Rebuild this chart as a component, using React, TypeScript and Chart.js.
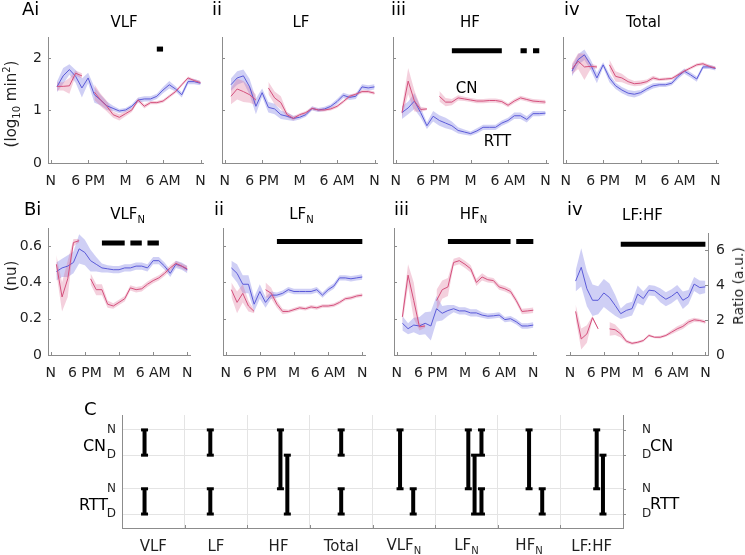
import React, { useEffect, useRef } from 'react';
import { Chart, registerables } from 'chart.js';

Chart.register(...registerables);

const FONT = "'DejaVu Sans', sans-serif";
const TXT = '#1f1f1f';
const AXIS = '#8c8c8c';
const BLUE = '#5a5ad8';
const RED = '#d4507c';
const BLUE_BAND = 'rgba(118,118,226,0.35)';
const RED_BAND = 'rgba(222,110,148,0.32)';
const C_GRID = '#e4e4e4';

// ---------- shared axes ----------
const HOURS = [1, 2, 3, 4, 5, 6, 7, 8, 9, 10, 11, 12, 13, 14, 15, 16, 17, 18, 19, 20, 21, 22, 23, 24];
const X_TICK_VALUES = [0, 6, 12, 18, 24];
const X_TICK_LABELS = ['N', '6 PM', 'M', '6 AM', 'N'];
const Y_TICKS_LOG = [0, 1, 2];
const Y_LABELS_LOG = ['0', '1', '2'];
const Y_TICKS_NU = [0, 0.2, 0.4, 0.6];
const Y_LABELS_NU = ['0', '0.2', '0.4', '0.6'];
const Y_TICKS_RATIO = [0, 2, 4, 6];
const Y_LABELS_RATIO = ['0', '2', '4', '6'];

// ---------- A: VLF ----------
const vlfRtt = [1.45, 1.66, 1.78, 1.65, 1.43, 1.62, 1.30, 1.20, 1.09, 1.04, 0.99, 1.01, 1.08, 1.20, 1.22, 1.22, 1.27, 1.39, 1.49, 1.41, 1.30, 1.55, 1.55, 1.52];
const vlfRttErr = [0.10, 0.15, 0.10, 0.12, 0.18, 0.10, 0.15, 0.10, 0.08, 0.05, 0.04, 0.04, 0.04, 0.05, 0.05, 0.05, 0.05, 0.06, 0.07, 0.05, 0.05, 0.05, 0.05, 0.04];
const vlfCn = [1.46, 1.46, 1.47, 1.71, 1.66, null, 1.35, 1.20, 1.08, 0.92, 0.87, 0.94, 1.01, 1.20, 1.08, 1.15, 1.15, 1.18, 1.27, 1.36, 1.49, 1.62, 1.57, 1.53];
const vlfCnErr = [0.08, 0.08, 0.15, 0.05, 0.05, null, 0.15, 0.12, 0.10, 0.06, 0.06, 0.05, 0.04, 0.04, 0.04, 0.03, 0.03, 0.03, 0.03, 0.03, 0.03, 0.03, 0.03, 0.03];
const vlfSig = [[17, 18]];

// ---------- A: LF ----------
const lfRtt = [1.49, 1.62, 1.66, 1.45, 1.08, 1.34, 1.06, 1.03, 0.92, 0.89, 0.85, 0.87, 0.92, 1.04, 1.01, 1.03, 1.08, 1.17, 1.29, 1.25, 1.27, 1.45, 1.43, 1.45];
const lfRttErr = [0.12, 0.13, 0.12, 0.15, 0.15, 0.08, 0.10, 0.10, 0.08, 0.07, 0.05, 0.04, 0.04, 0.04, 0.04, 0.04, 0.04, 0.05, 0.05, 0.05, 0.05, 0.05, 0.05, 0.05];
const lfCn = [1.27, 1.41, 1.36, 1.30, 1.20, null, 1.43, 1.24, 1.15, 0.92, 0.85, 0.92, 0.96, 1.04, 1.01, 1.01, 1.03, 1.08, 1.17, 1.27, 1.31, 1.36, 1.36, 1.33];
const lfCnErr = [0.15, 0.20, 0.20, 0.15, 0.10, null, 0.12, 0.12, 0.12, 0.05, 0.04, 0.03, 0.03, 0.03, 0.03, 0.03, 0.03, 0.03, 0.03, 0.03, 0.03, 0.03, 0.03, 0.03];
const lfSig: number[][] = [];

// ---------- A: HF ----------
const hfRtt = [0.96, 1.05, 1.18, 0.96, 0.71, 0.89, 0.81, 0.76, 0.71, 0.62, 0.59, 0.56, 0.61, 0.68, 0.68, 0.68, 0.76, 0.81, 0.90, 0.90, 0.83, 0.94, 0.94, 0.95];
const hfRttErr = [0.12, 0.12, 0.15, 0.10, 0.06, 0.10, 0.10, 0.10, 0.08, 0.06, 0.05, 0.04, 0.05, 0.05, 0.05, 0.05, 0.05, 0.05, 0.06, 0.06, 0.06, 0.05, 0.05, 0.04];
const hfCn = [0.96, 1.56, 1.18, 1.02, 1.03, null, 1.27, 1.16, 1.16, 1.24, 1.22, 1.20, 1.18, 1.18, 1.19, 1.19, 1.17, 1.10, 1.18, 1.24, 1.21, 1.18, 1.17, 1.16];
const hfCnErr = [0.10, 0.25, 0.20, 0.05, 0.02, null, 0.10, 0.08, 0.06, 0.05, 0.04, 0.04, 0.04, 0.04, 0.04, 0.04, 0.04, 0.04, 0.04, 0.04, 0.04, 0.04, 0.04, 0.04];
const hfSig = [[9, 17], [20, 21], [22, 23]];

// ---------- A: Total ----------
const totRtt = [1.75, 1.97, 2.06, 1.87, 1.62, 1.87, 1.62, 1.47, 1.39, 1.33, 1.31, 1.34, 1.41, 1.47, 1.49, 1.49, 1.52, 1.65, 1.75, 1.68, 1.60, 1.83, 1.83, 1.80];
const totRttErr = [0.10, 0.10, 0.10, 0.10, 0.10, 0.05, 0.08, 0.06, 0.06, 0.06, 0.06, 0.05, 0.05, 0.05, 0.04, 0.04, 0.04, 0.05, 0.05, 0.05, 0.05, 0.04, 0.04, 0.04];
const totCn = [1.79, 1.94, 1.83, 1.84, 1.83, null, 1.87, 1.65, 1.62, 1.55, 1.51, 1.52, 1.55, 1.62, 1.59, 1.60, 1.61, 1.68, 1.75, 1.81, 1.87, 1.89, 1.84, 1.81];
const totCnErr = [0.10, 0.15, 0.25, 0.05, 0.03, null, 0.10, 0.10, 0.08, 0.06, 0.05, 0.05, 0.04, 0.04, 0.03, 0.03, 0.03, 0.03, 0.03, 0.03, 0.03, 0.03, 0.03, 0.03];
const totSig: number[][] = [];

// ---------- B: VLF_N ----------
const vlfNRtt = [0.46, 0.48, 0.49, 0.51, 0.585, 0.565, 0.52, 0.50, 0.48, 0.475, 0.47, 0.47, 0.48, 0.48, 0.49, 0.49, 0.48, 0.52, 0.52, 0.49, 0.45, 0.50, 0.49, 0.47];
const vlfNRttErr = [0.05, 0.05, 0.06, 0.06, 0.08, 0.07, 0.06, 0.04, 0.025, 0.02, 0.02, 0.02, 0.02, 0.02, 0.02, 0.02, 0.02, 0.02, 0.02, 0.02, 0.02, 0.02, 0.02, 0.02];
const vlfNCn = [0.50, 0.32, 0.42, 0.62, 0.63, null, 0.42, 0.36, 0.36, 0.28, 0.27, 0.29, 0.31, 0.37, 0.36, 0.365, 0.39, 0.41, 0.425, 0.45, 0.48, 0.505, 0.49, 0.475];
const vlfNCnErr = [0.05, 0.08, 0.10, 0.02, 0.01, null, 0.03, 0.03, 0.03, 0.02, 0.015, 0.015, 0.015, 0.015, 0.015, 0.015, 0.015, 0.015, 0.015, 0.015, 0.015, 0.015, 0.015, 0.015];
const vlfNSig = [[9, 13], [14, 16], [17, 19]];

// ---------- B: LF_N ----------
const lfNRtt = [0.48, 0.45, 0.39, 0.39, 0.28, 0.35, 0.29, 0.33, 0.33, 0.34, 0.36, 0.35, 0.35, 0.35, 0.35, 0.36, 0.33, 0.36, 0.38, 0.425, 0.425, 0.42, 0.425, 0.43];
const lfNRttErr = [0.04, 0.05, 0.05, 0.05, 0.04, 0.04, 0.03, 0.02, 0.015, 0.015, 0.015, 0.015, 0.015, 0.015, 0.015, 0.015, 0.015, 0.015, 0.015, 0.015, 0.015, 0.015, 0.015, 0.015];
const lfNCn = [0.36, 0.29, 0.34, 0.27, 0.24, null, 0.36, 0.34, 0.28, 0.24, 0.24, 0.25, 0.26, 0.255, 0.265, 0.26, 0.27, 0.27, 0.275, 0.29, 0.31, 0.315, 0.325, 0.33];
const lfNCnErr = [0.04, 0.06, 0.05, 0.03, 0.01, null, 0.04, 0.03, 0.02, 0.015, 0.01, 0.01, 0.01, 0.01, 0.01, 0.01, 0.01, 0.01, 0.01, 0.01, 0.01, 0.01, 0.01, 0.01];
const lfNSig = [[9, 24]];

// ---------- B: HF_N ----------
const hfNRtt = [0.175, 0.145, 0.165, 0.16, 0.175, 0.16, 0.255, 0.23, 0.245, 0.255, 0.243, 0.243, 0.232, 0.232, 0.22, 0.214, 0.216, 0.22, 0.195, 0.20, 0.183, 0.16, 0.16, 0.165];
const hfNRttErr = [0.04, 0.03, 0.04, 0.05, 0.06, 0.08, 0.07, 0.04, 0.03, 0.02, 0.02, 0.02, 0.02, 0.02, 0.015, 0.015, 0.015, 0.015, 0.015, 0.015, 0.015, 0.015, 0.015, 0.015];
const hfNCn = [0.21, 0.44, 0.30, 0.155, 0.16, null, 0.30, 0.36, 0.375, 0.51, 0.52, 0.50, 0.475, 0.40, 0.43, 0.415, 0.41, 0.375, 0.365, 0.35, 0.30, 0.24, 0.243, 0.247];
const hfNCnErr = [0.04, 0.06, 0.10, 0.02, 0.01, null, 0.06, 0.05, 0.05, 0.02, 0.02, 0.02, 0.02, 0.02, 0.02, 0.015, 0.015, 0.015, 0.015, 0.015, 0.015, 0.015, 0.015, 0.015];
const hfNSig = [[9, 20], [21, 24]];

// ---------- B: LF:HF ----------
const lfhfRtt = [4.24, 5.03, 3.80, 3.14, 3.14, 3.56, 3.30, 2.85, 2.37, 2.56, 2.66, 3.49, 3.24, 3.72, 3.68, 3.43, 3.20, 3.37, 3.62, 3.14, 3.33, 4.07, 3.87, 3.91];
const lfhfRttErr = [0.6, 1.1, 1.0, 0.9, 0.8, 0.8, 0.8, 0.6, 0.3, 0.4, 0.4, 0.5, 0.4, 0.3, 0.3, 0.4, 0.4, 0.4, 0.4, 0.5, 0.4, 0.4, 0.4, 0.35];
const lfhfCn = [2.50, 0.92, 1.21, 2.14, 1.50, null, 1.50, 1.45, 1.21, 0.79, 0.67, 0.73, 0.83, 1.12, 1.02, 1.02, 1.12, 1.31, 1.50, 1.64, 1.89, 2.02, 1.98, 1.89];
const lfhfCnErr = [0.4, 0.6, 0.5, 0.1, 0.05, null, 0.4, 0.3, 0.2, 0.1, 0.08, 0.08, 0.08, 0.08, 0.06, 0.08, 0.08, 0.12, 0.15, 0.15, 0.15, 0.12, 0.1, 0.1];
const lfhfSig = [[9, 24]];

// ---------- C ----------
const C_COLUMN_LABELS = ['VLF', 'LF', 'HF', 'Total', 'VLF', 'LF', 'HF', 'LF:HF'];
const C_COLUMN_SUBS = ['', '', '', '', 'N', 'N', 'N', ''];
const C_ROW_VALUES = [1, 2, 3.33, 4.33]; // RTT D, RTT N, CN D, CN N
const C_ROW_LABELS = ['D', 'N', 'D', 'N'];
const C_GROUPS = ['RTT', 'CN'];
const C_BAR_X = [0.36, 0.36, 1.41, 1.41, 2.53, 2.64, 3.5, 3.5, 4.44, 4.65, 5.53, 5.63, 5.74, 5.74, 6.5, 6.71, 7.58, 7.68];
const C_BAR_FROM = [3, 1, 3, 1, 3, 2, 3, 1, 3, 1, 3, 2, 3, 1, 3, 1, 3, 2];
const C_BAR_TO = [2, 0, 2, 0, 1, 0, 2, 0, 1, 0, 1, 0, 2, 0, 1, 0, 1, 0];

// ---------- layout ----------
const YW = 48, PT = 20, PR = 18, XH = 30, PADL = 18, YWR = 30;

type Arr = (number | null)[];
type Panel = {
  l: number; t: number; w: number; h: number;
  xMin: number; xMax: number; yMin: number; yMax: number;
  yTicks: number[]; yLabels: string[]; showYLabels: boolean; right?: boolean;
  rtt: Arr; rttErr: Arr; cn: Arr; cnErr: Arr; sig: number[][]; sigY: number;
};

const rowA = { t: 37, h: 126, w: 155, xMin: -0.43, xMax: 24.4, yMin: 0, yMax: 2.4, yTicks: Y_TICKS_LOG, yLabels: Y_LABELS_LOG };
const rowB = { t: 228, h: 127, w: 142, xMin: -0.47, xMax: 24.47, yMin: 0, yMax: 0.7, yTicks: Y_TICKS_NU, yLabels: Y_LABELS_NU };

const PANELS: Panel[] = [
  { ...rowA, l: 48, showYLabels: true, rtt: vlfRtt, rttErr: vlfRttErr, cn: vlfCn, cnErr: vlfCnErr, sig: vlfSig, sigY: 2.17 },
  { ...rowA, l: 222, showYLabels: false, rtt: lfRtt, rttErr: lfRttErr, cn: lfCn, cnErr: lfCnErr, sig: lfSig, sigY: 2.15 },
  { ...rowA, l: 393, showYLabels: false, rtt: hfRtt, rttErr: hfRttErr, cn: hfCn, cnErr: hfCnErr, sig: hfSig, sigY: 2.14 },
  { ...rowA, l: 563, showYLabels: false, rtt: totRtt, rttErr: totRttErr, cn: totCn, cnErr: totCnErr, sig: totSig, sigY: 2.15 },
  { ...rowB, l: 48, showYLabels: true, rtt: vlfNRtt, rttErr: vlfNRttErr, cn: vlfNCn, cnErr: vlfNCnErr, sig: vlfNSig, sigY: 0.617 },
  { ...rowB, l: 223, showYLabels: false, rtt: lfNRtt, rttErr: lfNRttErr, cn: lfNCn, cnErr: lfNCnErr, sig: lfNSig, sigY: 0.626 },
  { ...rowB, l: 394, showYLabels: false, rtt: hfNRtt, rttErr: hfNRttErr, cn: hfNCn, cnErr: hfNCnErr, sig: hfNSig, sigY: 0.625 },
  { ...rowB, l: 566, t: 233, h: 122, xMin: -0.7, xMax: 24.46, yMax: 7, yTicks: Y_TICKS_RATIO, yLabels: Y_LABELS_RATIO, showYLabels: true, right: true,
    rtt: lfhfRtt, rttErr: lfhfRttErr, cn: lfhfCn, cnErr: lfhfCnErr, sig: lfhfSig, sigY: 6.36 },
];

function tickPlugin(xTicks: number[], yTicks: number[], yId: string, right: boolean, len = 3) {
  return {
    id: 'inTicks',
    afterDatasetsDraw(chart: any) {
      const { ctx, chartArea } = chart;
      ctx.save();
      ctx.strokeStyle = AXIS;
      ctx.lineWidth = 1;
      xTicks.forEach((v) => {
        const px = Math.round(chart.scales.x.getPixelForValue(v)) + 0.5;
        ctx.beginPath();
        ctx.moveTo(px, chartArea.bottom);
        ctx.lineTo(px, chartArea.bottom - len);
        ctx.stroke();
      });
      yTicks.forEach((v) => {
        const py = Math.round(chart.scales[yId].getPixelForValue(v)) + 0.5;
        const x0 = right ? chartArea.right : chartArea.left;
        ctx.beginPath();
        ctx.moveTo(x0, py);
        ctx.lineTo(x0 + (right ? -len : len), py);
        ctx.stroke();
      });
      ctx.restore();
    },
  };
}

function panelConfig(p: Panel): any {
  const xy = (arr: Arr) => HOURS.map((hr, i) => ({ x: hr, y: arr[i] }));
  const band = (m: Arr, e: Arr, s: number) => m.map((v, i) => (v == null || e[i] == null ? null : v + s * (e[i] as number)));
  const sigData: any[] = [];
  p.sig.forEach(([a, b]) => {
    sigData.push({ x: a, y: p.sigY }, { x: b, y: p.sigY }, { x: b, y: null });
  });
  const ds = (data: any[], color: string, width: number, fill: any = false, bg = 'transparent') => ({
    data, borderColor: color, borderWidth: width, pointRadius: 0, pointHoverRadius: 0,
    fill, backgroundColor: bg, tension: 0, spanGaps: false, borderCapStyle: 'butt',
  });
  const labelOf = (vals: number[], labels: string[]) => (v: number) => {
    const i = vals.findIndex((t) => Math.abs(t - v) < 1e-9);
    return i >= 0 ? labels[i] : '';
  };
  return {
    type: 'line',
    data: {
      datasets: [
        ds(sigData, '#000', 5),
        ds(xy(p.cn), RED, 1),
        ds(xy(p.rtt), BLUE, 1),
        ds(xy(band(p.cn, p.cnErr, -1)), 'transparent', 0),
        ds(xy(band(p.cn, p.cnErr, 1)), 'transparent', 0, '-1', RED_BAND),
        ds(xy(band(p.rtt, p.rttErr, -1)), 'transparent', 0),
        ds(xy(band(p.rtt, p.rttErr, 1)), 'transparent', 0, '-1', BLUE_BAND),
      ],
    },
    options: {
      animation: false,
      responsive: false,
      events: [],
      layout: { padding: { left: p.right ? PADL : 0, right: p.right ? 0 : PR, top: PT, bottom: 0 } },
      plugins: { legend: { display: false }, tooltip: { enabled: false } },
      scales: {
        x: {
          type: 'linear', min: p.xMin, max: p.xMax,
          grid: { display: false, drawTicks: false },
          border: { display: true, color: AXIS, width: 1 },
          ticks: { padding: 10, autoSkip: false, maxRotation: 0, color: TXT, font: { family: FONT, size: 14 }, callback: labelOf(X_TICK_VALUES, X_TICK_LABELS) },
          afterBuildTicks: (s: any) => { s.ticks = X_TICK_VALUES.map((v) => ({ value: v })); },
          afterFit: (s: any) => { s.height = XH; },
        },
        y: {
          type: 'linear', position: p.right ? 'right' : 'left', min: p.yMin, max: p.yMax,
          grid: { display: false, drawTicks: false },
          border: { display: true, color: AXIS, width: 1 },
          ticks: { padding: p.right ? 8 : 6, color: TXT, font: { family: FONT, size: 14 },
            callback: p.showYLabels ? labelOf(p.yTicks, p.yLabels) : () => '' },
          afterBuildTicks: (s: any) => { s.ticks = p.yTicks.map((v) => ({ value: v })); },
          afterFit: (s: any) => { s.width = p.right ? YWR : YW; },
        },
      },
    },
    plugins: [tickPlugin(X_TICK_VALUES, p.yTicks.filter((v) => v !== p.yMin), 'y', !!p.right)],
  };
}

const PanelChart = ({ p }: { p: Panel }) => {
  const ref = useRef<HTMLCanvasElement>(null);
  const leftSpace = p.right ? PADL : YW;
  const rightSpace = p.right ? YWR : PR;
  const W = leftSpace + p.w + rightSpace;
  const H = PT + p.h + XH;
  useEffect(() => {
    const chart = new Chart(ref.current as HTMLCanvasElement, panelConfig(p));
    return () => chart.destroy();
  }, []);
  return <canvas ref={ref} width={W} height={H} style={{ position: 'absolute', left: p.l - leftSpace, top: p.t - PT, width: W, height: H }} />;
};

// C panel geometry
const C_AREA = { l: 122, t: 415, w: 501, h: 113 };
const CYW = 22, CYWR = 30, CPT = 34, CXH = 6, CPB = 30;
const C_Y_MIN = 0.447, C_Y_MAX = 4.92;

const CChart = () => {
  const ref = useRef<HTMLCanvasElement>(null);
  const W = CYW + C_AREA.w + CYWR;
  const H = CPT + C_AREA.h + CXH + CPB;
  useEffect(() => {
    const data: any[] = [];
    C_BAR_X.forEach((x, i) => {
      data.push({ x, y: C_ROW_VALUES[C_BAR_FROM[i]] }, { x, y: C_ROW_VALUES[C_BAR_TO[i]] }, { x, y: null });
    });
    const cols = C_COLUMN_LABELS.map((_, i) => i).concat([C_COLUMN_LABELS.length]);
    const rowLabel = (v: number) => {
      const i = C_ROW_VALUES.findIndex((t) => Math.abs(t - v) < 1e-9);
      return i >= 0 ? C_ROW_LABELS[i] : '';
    };
    const rowTicks = (s: any) => { s.ticks = C_ROW_VALUES.map((v) => ({ value: v })); };
    const plugin = {
      id: 'cTicks',
      afterDatasetsDraw(chart: any) {
        const { ctx, chartArea } = chart;
        ctx.save();
        ctx.strokeStyle = AXIS;
        ctx.lineWidth = 1;
        cols.slice(1, -1).forEach((v) => {
          const px = Math.round(chart.scales.x.getPixelForValue(v)) + 0.5;
          ctx.beginPath(); ctx.moveTo(px, chartArea.bottom); ctx.lineTo(px, chartArea.bottom - 3); ctx.stroke();
        });
        C_ROW_VALUES.forEach((v) => {
          const py = Math.round(chart.scales.y.getPixelForValue(v)) + 0.5;
          ctx.beginPath(); ctx.moveTo(chartArea.right, py); ctx.lineTo(chartArea.right + 3, py); ctx.stroke();
        });
        ctx.restore();
      },
    };
    const chart = new Chart(ref.current as HTMLCanvasElement, {
      type: 'line',
      data: {
        datasets: [{
          data, borderColor: '#000', borderWidth: 4, borderCapStyle: 'butt', spanGaps: false, fill: false,
          pointStyle: 'line', pointRadius: 3.5, pointHoverRadius: 3.5, pointBorderWidth: 3, pointBorderColor: '#000', pointBackgroundColor: '#000',
        } as any],
      },
      options: {
        animation: false,
        responsive: false,
        events: [],
        layout: { padding: { left: 0, right: 0, top: CPT, bottom: CPB } },
        plugins: { legend: { display: false }, tooltip: { enabled: false } },
        scales: {
          x: {
            type: 'linear', min: 0, max: C_COLUMN_LABELS.length,
            grid: { display: true, color: C_GRID, drawTicks: false, lineWidth: 1 },
            border: { display: true, color: AXIS, width: 1 },
            ticks: { display: false },
            afterBuildTicks: (s: any) => { s.ticks = cols.map((v) => ({ value: v })); },
            afterFit: (s: any) => { s.height = CXH; },
          } as any,
          y: {
            type: 'linear', position: 'left', min: C_Y_MIN, max: C_Y_MAX,
            grid: { display: true, color: C_GRID, drawTicks: false, lineWidth: 1 },
            border: { display: true, color: AXIS, width: 1 },
            ticks: { padding: 6, color: TXT, font: { family: FONT, size: 12 }, callback: (v: any) => rowLabel(v) },
            afterBuildTicks: rowTicks,
            afterFit: (s: any) => { s.width = CYW; },
          } as any,
          y2: {
            type: 'linear', position: 'right', min: C_Y_MIN, max: C_Y_MAX,
            grid: { display: false, drawTicks: false },
            border: { display: true, color: AXIS, width: 1 },
            ticks: { padding: 19, color: TXT, font: { family: FONT, size: 12 }, callback: (v: any) => rowLabel(v) },
            afterBuildTicks: rowTicks,
            afterFit: (s: any) => { s.width = CYWR; },
          } as any,
        },
      },
      plugins: [plugin],
    });
    return () => chart.destroy();
  }, []);
  return <canvas ref={ref} width={W} height={H} style={{ position: 'absolute', left: C_AREA.l - CYW, top: C_AREA.t - CPT, width: W, height: H }} />;
};

// ---------- text ----------
const T = ({ x, y, size = 15, rot = false, left = false, color = '#000', children }: any) => (
  <div style={{
    position: 'absolute', left: x, top: y, fontFamily: FONT, fontSize: size, lineHeight: `${size}px`,
    whiteSpace: 'nowrap', color,
    transform: `${left ? 'translate(0,-50%)' : 'translate(-50%,-50%)'}${rot ? ' rotate(-90deg)' : ''}`,
  }}>{children}</div>
);
const Sub = ({ children, size = 10 }: any) => <span style={{ fontSize: size, position: 'relative', top: 4 }}>{children}</span>;
const Sup = ({ children, size = 10 }: any) => <span style={{ fontSize: size, position: 'relative', top: -6 }}>{children}</span>;

const TITLES_A = [
  { x: 124, text: 'VLF', sub: '' }, { x: 301, text: 'LF', sub: '' }, { x: 470, text: 'HF', sub: '' }, { x: 643.5, text: 'Total', sub: '' },
];
const TITLES_B = [
  { x: 127.5, text: 'VLF', sub: 'N' }, { x: 301.5, text: 'LF', sub: 'N' }, { x: 473.5, text: 'HF', sub: 'N' }, { x: 642.5, text: 'LF:HF', sub: '' },
];
const LETTERS = [
  { x: 22, y: 8.5, t: 'Ai' }, { x: 212, y: 8.5, t: 'ii' }, { x: 391, y: 8.5, t: 'iii' }, { x: 564, y: 8.5, t: 'iv' },
  { x: 24, y: 209, t: 'Bi' }, { x: 214, y: 209, t: 'ii' }, { x: 394, y: 209, t: 'iii' }, { x: 567, y: 209, t: 'iv' },
  { x: 84, y: 409, t: 'C' },
];

export default function App() {
  const colW = C_AREA.w / C_COLUMN_LABELS.length;
  return (
    <div style={{ position: 'fixed', left: 0, top: 0, width: 745, height: 555, background: '#fff', overflow: 'hidden' }}>
      {PANELS.map((p, i) => <PanelChart key={i} p={p} />)}
      <CChart />
      {LETTERS.map((l, i) => <T key={'l' + i} x={l.x} y={l.y} size={18} left>{l.t}</T>)}
      {TITLES_A.map((t, i) => <T key={'ta' + i} x={t.x} y={22}>{t.text}</T>)}
      {TITLES_B.map((t, i) => <T key={'tb' + i} x={t.x} y={215}>{t.text}{t.sub ? <Sub>{t.sub}</Sub> : null}</T>)}
      <T x={12} y={104} rot color={TXT}>(log<Sub>10</Sub> min<Sup>2</Sup>)</T>
      <T x={11} y={276} rot color={TXT}>(nu)</T>
      <T x={737.5} y={286} rot size={14} color={TXT}>Ratio (a.u.)</T>
      <T x={466.7} y={88.3}>CN</T>
      <T x={497.5} y={141}>RTT</T>
      <T x={94.5} y={446} size={16}>{C_GROUPS[1]}</T>
      <T x={93.5} y={505} size={16}>{C_GROUPS[0]}</T>
      <T x={650} y={445.5} size={16} left>{C_GROUPS[1]}</T>
      <T x={650} y={504} size={16} left>{C_GROUPS[0]}</T>
      {C_COLUMN_LABELS.map((c, i) => (
        <T key={'c' + i} x={C_AREA.l + colW * (i + 0.5)} y={545.5} color={TXT}>{c}{C_COLUMN_SUBS[i] ? <Sub>{C_COLUMN_SUBS[i]}</Sub> : null}</T>
      ))}
    </div>
  );
}
